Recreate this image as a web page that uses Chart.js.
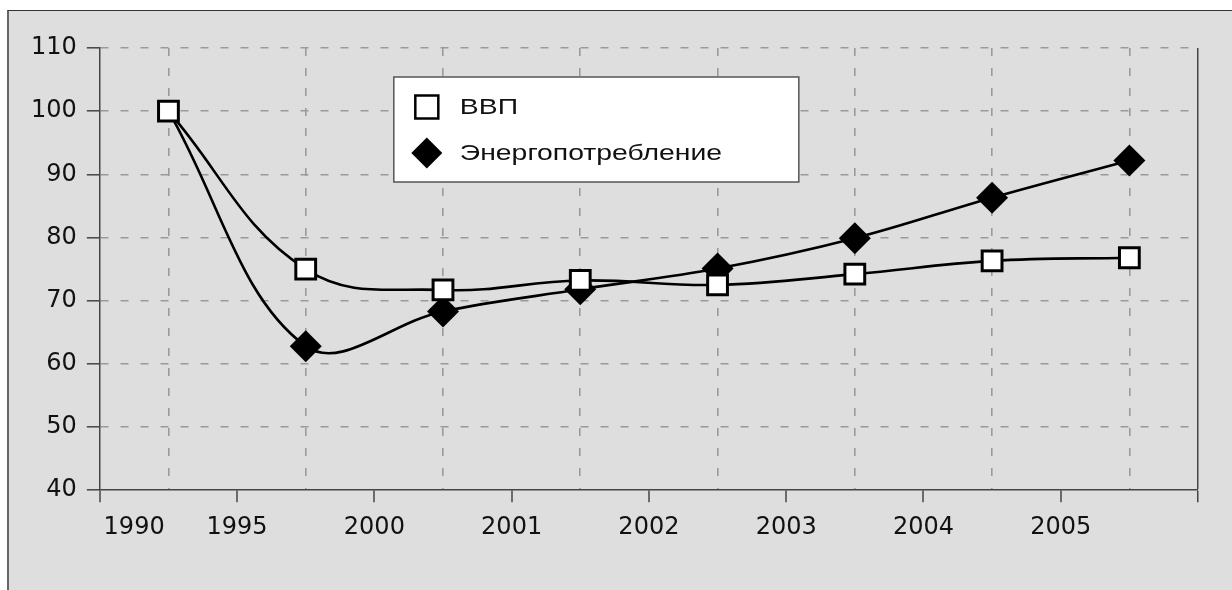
<!DOCTYPE html>
<html>
<head>
<meta charset="utf-8">
<script src="https://cdn.jsdelivr.net/npm/chart.js@4.4.1/dist/chart.umd.min.js"></script>
<style>
    html, body { margin: 0; padding: 0; background: #fff; }
    #frame {
        position: absolute; left: 7px; top: 10px; width: 1240px; height: 600px;
        background: #dedede; border-top: 1.5px solid #333; border-left: 2px solid #666;
    }
    #chart { position: absolute; left: 0; top: 0; }
</style>
</head>
<body>
<div id="frame"></div>
<canvas id="chart" width="1232" height="590"></canvas>
<script>
// years under the axis (one per category)
const xLabels = ['1990', '1995', '2000', '2001', '2002', '2003', '2004', '2005'];
// ВВП, 1990 = 100
const gdp = [100, 75.0, 71.7, 73.2, 72.5, 74.2, 76.3, 76.8];
// Энергопотребление, 1990 = 100
const energy = [100, 62.8, 68.3, 71.8, 75.1, 79.9, 86.3, 92.2];
const yTicks = [40, 50, 60, 70, 80, 90, 100, 110];

const FONT = '"DejaVu Sans", sans-serif';
const LEGEND_FONT = '"Liberation Sans", Arial, sans-serif';
const DASH = [8, 12];

// points sit in the middle of each category box
function toPoints(arr) {
    return arr.map((v, i) => ({ x: i + 0.5, y: v }));
}

// legend drawn as a white box inside the plot
const boxLegend = {
    id: 'boxLegend',
    afterDraw(chart) {
        const c = chart.ctx;
        const a = chart.chartArea;
        const x = a.left + 294, y = a.top + 29, w = 405, h = 105;
        c.save();
        c.fillStyle = '#fff';
        c.fillRect(x, y, w, h);
        c.strokeStyle = '#555';
        c.lineWidth = 1.5;
        c.strokeRect(x, y, w, h);

        chart.data.datasets.forEach((ds, i) => {
            const cx = x + 33;
            const cy = y + 30 + i * 46;
            if (ds.pointStyle === 'rect') {
                c.fillStyle = '#fff';
                c.fillRect(cx - 11.5, cy - 11.5, 23, 23);
                c.strokeStyle = '#000';
                c.lineWidth = 2.5;
                c.strokeRect(cx - 11.5, cy - 11.5, 23, 23);
            } else {
                c.fillStyle = '#000';
                c.beginPath();
                c.moveTo(cx, cy - 15.5);
                c.lineTo(cx + 15.5, cy);
                c.lineTo(cx, cy + 15.5);
                c.lineTo(cx - 15.5, cy);
                c.closePath();
                c.fill();
            }
            // the legend type is wider than the font, stretch it
            c.save();
            c.translate(x + 66, cy + 1);
            c.scale(1.26, 1);
            c.fillStyle = '#111';
            c.font = '22.5px ' + LEGEND_FONT;
            c.textBaseline = 'middle';
            c.textAlign = 'left';
            c.fillText(ds.label, 0, 0);
            c.restore();
        });
        c.restore();
    }
};

const ctx = document.getElementById('chart').getContext('2d');
const chart = new Chart(ctx, {
    type: 'line',
    data: {
        datasets: [{
            label: 'ВВП',
            data: toPoints(gdp),
            borderColor: '#000',
            borderWidth: 2.6,
            pointStyle: 'rect',
            pointRadius: 14,
            pointBackgroundColor: '#fff',
            pointBorderColor: '#000',
            pointBorderWidth: 3,
            tension: 0.4
        }, {
            label: 'Энергопотребление',
            data: toPoints(energy),
            borderColor: '#000',
            borderWidth: 2.6,
            pointStyle: 'rectRot',
            // no marker at the common start point, the square covers it
            pointRadius: energy.map((v, i) => i === 0 ? 0 : 16),
            pointBackgroundColor: '#000',
            pointBorderColor: '#000',
            pointBorderWidth: 0,
            tension: 0.37
        }]
    },
    options: {
        responsive: false,
        animation: false,
        layout: { padding: { left: 21, right: 34, top: 48, bottom: 37 } },
        plugins: {
            legend: { display: false },
            tooltip: { enabled: false }
        },
        scales: {
            x: {
                type: 'linear',
                min: 0,
                max: xLabels.length,
                ticks: {
                    stepSize: 0.5,
                    autoSkip: false,
                    maxRotation: 0,
                    padding: 11,
                    color: '#111',
                    font: { family: FONT, size: 24 },
                    callback: function (value) {
                        if (!Number.isInteger(value)) return '';
                        // first year sits a bit to the right of its tick
                        if (value === 0) return ' '.repeat(9) + xLabels[0];
                        return xLabels[value] || '';
                    }
                },
                grid: {
                    color: c => c.tick && c.tick.value === xLabels.length ? '#444' : '#9a9a9a',
                    lineWidth: c => {
                        if (!c.tick) return 0;
                        const v = c.tick.value;
                        if (v === xLabels.length) return 1.5;
                        return Number.isInteger(v) ? 0 : 1.6;
                    },
                    tickColor: c => c.tick && Number.isInteger(c.tick.value) ? '#444' : 'rgba(0,0,0,0)',
                    tickWidth: 1.5,
                    tickLength: 12
                },
                border: {
                    color: '#444',
                    width: 1.5,
                    dash: c => c.tick && c.tick.value === xLabels.length ? [] : DASH
                }
            },
            y: {
                min: yTicks[0],
                max: yTicks[yTicks.length - 1],
                ticks: {
                    stepSize: 10,
                    padding: 10,
                    color: '#111',
                    font: { family: FONT, size: 24 }
                },
                grid: {
                    color: c => c.tick && c.tick.value === yTicks[0] ? 'rgba(0,0,0,0)' : '#9a9a9a',
                    lineWidth: 1.6,
                    tickColor: '#444',
                    tickWidth: 1.5,
                    tickLength: 13
                },
                border: {
                    color: '#444',
                    width: 1.5,
                    dash: DASH
                }
            }
        }
    },
    plugins: [boxLegend]
});
</script>
</body>
</html>
